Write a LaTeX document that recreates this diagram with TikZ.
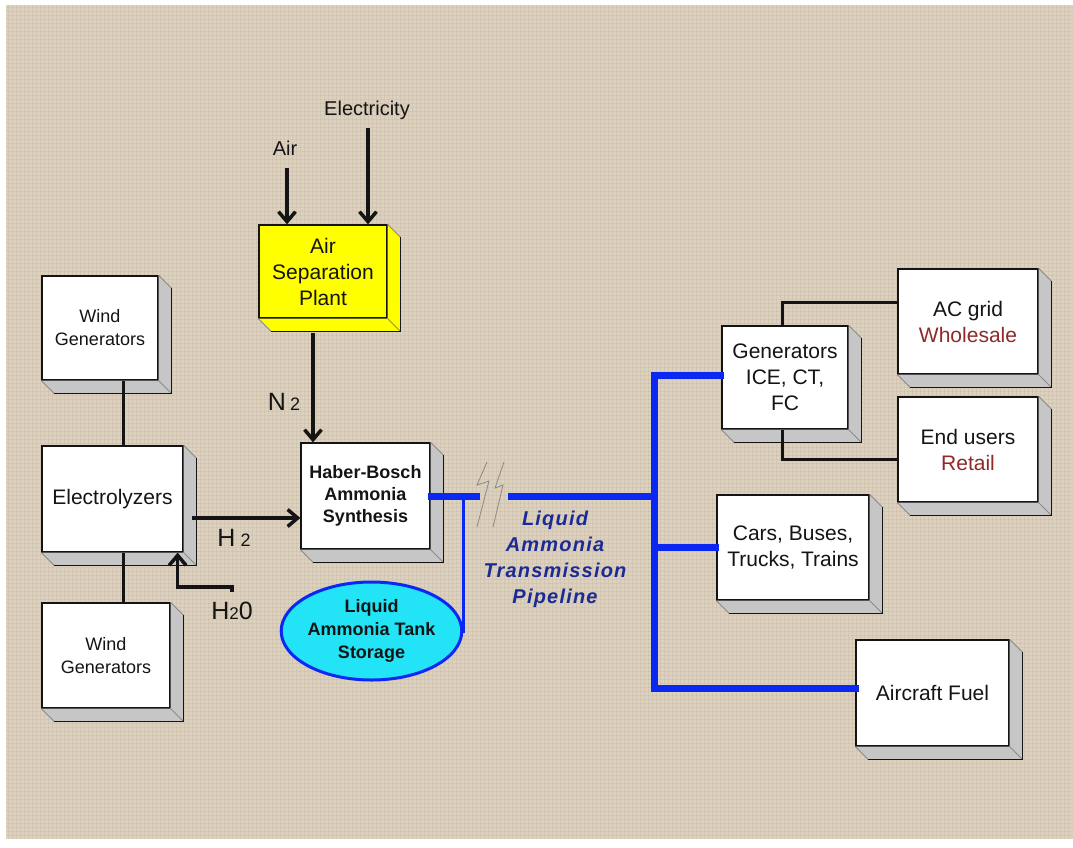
\documentclass[tikz,border=0pt]{standalone}
\usepackage{fontspec}
\setmainfont{Liberation Sans}
\usetikzlibrary{arrows.meta, calc, positioning, shapes.geometric}
\definecolor{paper}{HTML}{DCD1BE}
\definecolor{weave}{HTML}{B8A88C}
\definecolor{ink}{HTML}{141414}
\definecolor{side}{HTML}{C6C6C6}
\definecolor{edge}{HTML}{8A8A8A}
\definecolor{lemon}{HTML}{FFFF00}
\definecolor{pipeb}{HTML}{0A28F2}
\definecolor{navy}{HTML}{1B2A94}
\definecolor{tankc}{HTML}{22E4F6}
\definecolor{brick}{HTML}{8E2A2A}
\tikzset{
  blk/.style={draw=ink, fill=white, line width=1.3pt, inner sep=2pt, align=center, text=ink, font=\fontsize{21}{26}\selectfont},
  wire/.style={draw=ink, line width=3.5pt},
  flow/.style={wire, -{Straight Barb[length=10pt,width=17pt,line width=3.5pt]}},
  pipe/.style={draw=pipeb, line width=7pt},
  tap/.style={draw=pipeb, line width=3pt},
  lbl/.style={text=ink, font=\fontsize{20}{24}\selectfont},
}

\begin{document}
\begin{tikzpicture}[x=1pt, y=-1pt, line join=miter]
  \useasboundingbox (0,0) rectangle (1073,847);
  \fill[white] (0,0) rectangle (1073,847);
  \fill[paper] (6,5) rectangle (1073,839);
  \foreach \k in {8,12,...,1070}{\draw[weave, line width=0.5pt, opacity=0.22] (\k,5) -- (\k,839);}
  \foreach \k in {7,11,...,837}{\draw[weave, line width=0.5pt, opacity=0.22] (6,\k) -- (1073,\k);}

  % supply side
  \node[blk, minimum width=116pt, minimum height=104pt, font=\fontsize{18}{23}\selectfont] (windA) at (100,328) {Wind\\Generators};
  \node[blk, minimum width=141pt, minimum height=106pt] (elec) at (112.5,499) {Electrolyzers};
  \node[blk, minimum width=128pt, minimum height=105pt, font=\fontsize{18}{23}\selectfont] (windB) at (106,655.5) {Wind\\Generators};
  \node[blk, fill=lemon, minimum width=128pt, minimum height=93pt] (asp) at (323,271.5) {Air\\Separation\\Plant};
  \node[blk, minimum width=129pt, minimum height=106pt, font=\bfseries\fontsize{18}{22}\selectfont] (haber) at (365.5,496) {Haber-Bosch\\Ammonia\\Synthesis};
  \node[ellipse, draw=pipeb, fill=tankc, line width=3pt, inner sep=0pt, minimum width=143pt, minimum height=98pt, align=center, text=ink, font=\bfseries\fontsize{18}{23}\selectfont] (tank) at (371.5,631) {Liquid\\Ammonia Tank\\Storage};

  % users
  \node[blk, minimum width=126pt, minimum height=103pt] (gen) at (785,377.5) {Generators\\ICE, CT,\\FC};
  \node[blk, minimum width=140pt, minimum height=105pt] (acgrid) at (968,321.5) {AC grid\\\textcolor{brick}{Wholesale}};
  \node[blk, minimum width=140pt, minimum height=105pt] (endu) at (968,449.5) {End users\\\textcolor{brick}{Retail}};
  \node[blk, minimum width=152pt, minimum height=105pt] (cars) at (793,547.5) {Cars, Buses,\\Trucks, Trains};
  \node[blk, minimum width=153pt, minimum height=106pt] (fuel) at (932.5,693) {Aircraft Fuel};

  % box depth
  \foreach \n/\c in {windA/side,elec/side,windB/side,haber/side,gen/side,acgrid/side,endu/side,cars/side,fuel/side,asp/lemon}{
    \fill[\c] (\n.north east) -- ++(13,13) -- ($(\n.south east)+(13,13)$) -- ($(\n.south west)+(13,13)$) -- (\n.south west) -- (\n.south east) -- cycle;
    \draw[edge, line width=0.8pt] (\n.north east) -- ++(13,13) (\n.south east) -- ++(13,13) (\n.south west) -- ++(13,13);
    \draw[ink, line width=1.3pt] ($(\n.north east)+(13,13)$) -- ($(\n.south east)+(13,13)$) -- ($(\n.south west)+(13,13)$);}

  % inputs
  \node[lbl] (airin) at (285,148) {Air};
  \node[lbl] (elecin) at (367,110) {Electricity};
  \coordinate (airtop) at (287,168);
  \coordinate (eltop) at (368,128);
  \draw[flow] (airtop) -- (airtop |- asp.north);
  \draw[flow] (eltop) -- (eltop |- asp.north);
  \coordinate (n2top) at ($(asp.south)+(-10,14)$);
  \draw[flow] (n2top) -- (n2top |- haber.north);
  \node[text=ink, inner sep=0pt] (n2) at (284,402) {\fontsize{25}{25}\selectfont N\hspace{4pt}\fontsize{18}{18}\selectfont 2};

  \coordinate (elecup) at ($(elec.north)+(11,0)$);
  \coordinate (elecdn) at ($(elec.south)+(11,0)$);
  \draw[wire] (elecup |- windA.south) -- (elecup);
  \draw[wire] (elecdn) -- (elecdn |- windB.north);

  \coordinate (h2s) at ($(elec.east)+(8,19)$);
  \draw[flow] (h2s) -- (h2s -| haber.west);
  \node[text=ink, inner sep=0pt] (h2) at (234,538) {\fontsize{25}{25}\selectfont H\hspace{5pt}\fontsize{18}{18}\selectfont 2};
  \coordinate (h2oin) at (232,592);
  \draw[flow] (h2oin) -- ++(0,-5) -| ($(elec.south east)+(-6,0)$);
  \node[text=ink, inner sep=0pt] (h2o) at (232,611) {\fontsize{25}{25}\selectfont H\fontsize{17}{17}\selectfont 2\fontsize{25}{25}\selectfont 0};

  % pipeline
  \coordinate (brkA) at (480,496);
  \coordinate (brkB) at (508,496);
  \coordinate (hub) at (654,496);
  \draw[pipe] ($(haber.east)+(-3,0)$) -- (brkA);
  \draw[pipe] (brkB) -- (hub);
  \draw[pipe] ($(gen.west)+(3,-2)$) -| (hub) |- ($(fuel.west)+(4,-5)$);
  \draw[pipe] (cars.west -| hub) -- ($(cars.west)+(3,0)$);
  \draw[tap] ($(haber.east)+(33,0)$) |- (tank.east);
  \draw[edge, line width=0.8pt] (487,462) -- (477,485) -- (489,481) -- (477,527);
  \draw[edge, line width=0.8pt] (504,462) -- (495,488) -- (503,485) -- (493,527);
  \node[text=navy, align=center, font=\bfseries\itshape\addfontfeatures{LetterSpace=6}\fontsize{20}{26}\selectfont] (plab) at (555,559) {Liquid\\Ammonia\\Transmission\\Pipeline};

  \draw[wire, line width=3pt] ($(gen.north)+(-3,0)$) |- ($(acgrid.north west)+(0,34)$);
  \draw[wire, line width=3pt] ($(gen.south)+(-3,0)$) |- ($(endu.north west)+(0,63)$);
\end{tikzpicture}
\end{document}
